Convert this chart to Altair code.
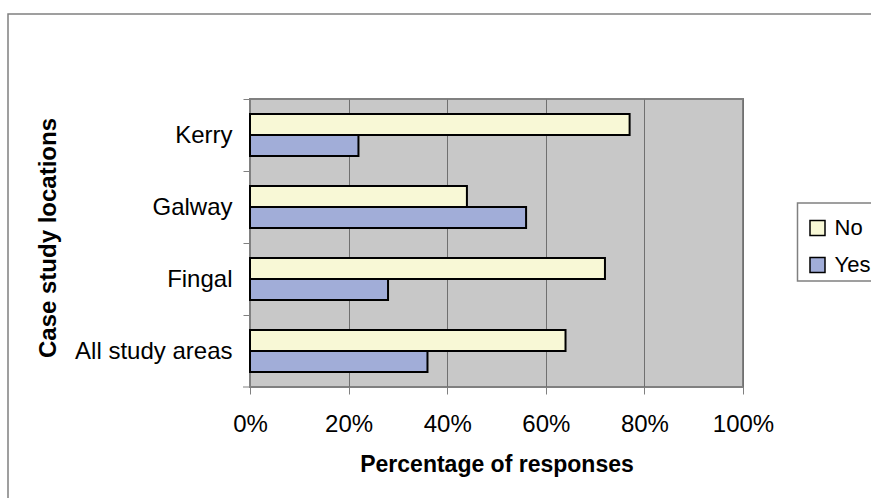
import altair as alt
import pandas as pd

# Survey answers per case study location (percent of responses)
locations = ["Kerry", "Galway", "Fingal", "All study areas"]
responses = ["No", "Yes"]
no_pct = [77, 44, 72, 64]
yes_pct = [22, 56, 28, 36]
x_ticks = [0, 20, 40, 60, 80, 100]
colors = ["#f8f8d6", "#a1add8"]

rows = []
for loc, n, y in zip(locations, no_pct, yes_pct):
    rows.append({"location": loc, "response": "No", "pct": n})
    rows.append({"location": loc, "response": "Yes", "pct": y})
df = pd.DataFrame(rows)

W, H = 493, 288
PAD_L, PAD_T = 250, 99
FONT = "Liberation Sans"

bars = alt.Chart(df).mark_bar(stroke="black", strokeWidth=2).encode(
    x=alt.X(
        "pct:Q",
        scale=alt.Scale(domain=[0, 100], nice=False),
        axis=alt.Axis(
            values=x_ticks,
            labelExpr="datum.value + '%'",
            labelFlush=False,
            labelOverlap=False,
            title="Percentage of responses",
            grid=True,
            gridColor="#707070",
            gridWidth=1,
            tickSize=7,
            labelPadding=37,
            labelBaseline="alphabetic",
            titleY=84,
            titleBaseline="alphabetic",
        ),
    ),
    y=alt.Y(
        "location:N",
        sort=locations,
        scale=alt.Scale(paddingInner=0, paddingOuter=0),
        axis=alt.Axis(
            title="Case study locations",
            bandPosition=0,
            tickSize=7,
            labelPadding=11,
            labelBaseline="middle",
            labelOffset=1,
            titleAngle=270,
            titleFontSize=24,
            titleX=-195,
            titleY=138.5,
            titleAlign="center",
            titleBaseline="alphabetic",
        ),
    ),
    yOffset=alt.YOffset(
        "response:N",
        sort=responses,
        scale=alt.Scale(paddingInner=0, paddingOuter=0.71),
    ),
    color=alt.Color(
        "response:N",
        sort=responses,
        scale=alt.Scale(domain=responses, range=colors),
        legend=alt.Legend(
            title=None,
            orient="none",
            legendX=556.5,
            legendY=118,
            symbolType="square",
            symbolSize=225,
            symbolStrokeColor="black",
            symbolStrokeWidth=1.5,
            labelFont=FONT,
            labelFontSize=22,
            labelColor="black",
            labelOffset=6,
            rowPadding=15,
            padding=0,
        ),
    ),
)

one = pd.DataFrame({"k": [0]})

# Outer frame around the chart
frame = alt.Chart(one).mark_rect(
    fillOpacity=0, stroke="#808080", strokeWidth=1.5
).encode(
    x=alt.value(-242), x2=alt.value(1000), y=alt.value(-85), y2=alt.value(1000)
)

# Box behind the legend
legend_box = alt.Chart(one).mark_rect(
    fill="white", stroke="#808080", strokeWidth=1.5
).encode(
    x=alt.value(547.5), x2=alt.value(700), y=alt.value(104), y2=alt.value(182)
)

# Closing tick at the bottom of the category axis
end_tick = alt.Chart(one).mark_rule(color="#808080", strokeWidth=1).encode(
    x=alt.value(-7), x2=alt.value(0), y=alt.value(H)
)

chart = (
    alt.layer(frame, legend_box, bars, end_tick)
    .properties(
        width=W,
        height=H,
        autosize=alt.AutoSizeParams(type="none"),
        padding={"left": PAD_L, "top": PAD_T, "right": 871 - PAD_L - W, "bottom": 498 - PAD_T - H},
        background="white",
    )
    .configure_view(fill="#c8c8c8", stroke="#808080", strokeWidth=2)
    .configure_axis(
        domainColor="#808080",
        tickColor="#808080",
        labelFont=FONT,
        labelFontSize=24,
        labelColor="black",
        titleFont=FONT,
        titleFontSize=23,
        titleFontWeight="bold",
        titleColor="black",
    )
)

chart.save("out.html", embed_options={"renderer": "svg", "actions": False})
